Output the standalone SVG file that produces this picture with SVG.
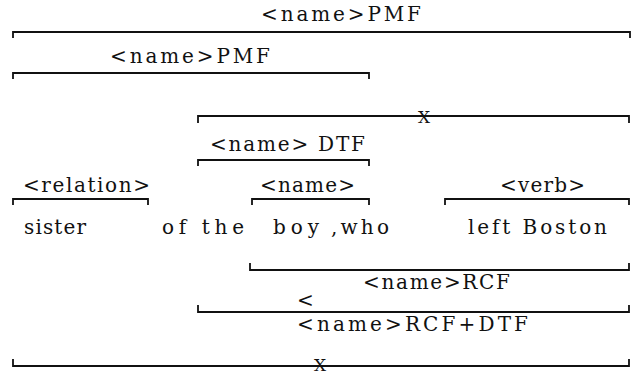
<svg xmlns="http://www.w3.org/2000/svg" width="638" height="376" viewBox="0 0 638 376">
  <style>
    text { font-family: "DejaVu Serif", "Liberation Serif", serif; font-size: 20px; fill: #111; }
    .br { fill: none; stroke: #111; stroke-width: 1.8; stroke-linejoin: miter; }
    .x { font-size: 17px; text-anchor: middle; }
  </style>
  <rect width="638" height="376" fill="#fff"/>

  <!-- constituents above the sentence: bracket opens downward -->
  <g id="pmf-outer">
    <text x="261" y="21" textLength="160" lengthAdjust="spacing">&lt;name&gt;PMF</text>
    <path class="br" d="M13 38 V32 H630 V38"/>
  </g>
  <g id="pmf-inner">
    <text x="110" y="63" textLength="160" lengthAdjust="spacing">&lt;name&gt;PMF</text>
    <path class="br" d="M13 79 V73 H369 V79"/>
  </g>
  <g id="x-upper">
    <path class="br" d="M198 123 V116 H629 V123"/>
    <text class="x" x="424" y="123">X</text>
  </g>
  <g id="dtf">
    <text x="210" y="151" textLength="155" lengthAdjust="spacing">&lt;name&gt; DTF</text>
    <path class="br" d="M198 166 V160 H369 V166"/>
  </g>
  <g id="relation">
    <text x="23" y="192" textLength="127" lengthAdjust="spacing">&lt;relation&gt;</text>
    <path class="br" d="M13 205 V199 H148 V205"/>
  </g>
  <g id="name">
    <text x="260" y="192" textLength="95" lengthAdjust="spacing">&lt;name&gt;</text>
    <path class="br" d="M252 205 V199 H369 V205"/>
  </g>
  <g id="verb">
    <text x="500" y="192" textLength="85" lengthAdjust="spacing">&lt;verb&gt;</text>
    <path class="br" d="M445 205 V199 H629 V205"/>
  </g>

  <!-- the sentence -->
  <g id="sentence">
    <text x="24" y="234" textLength="62" lengthAdjust="spacing">sister</text>
    <text x="162" y="234" textLength="82" lengthAdjust="spacing">of the</text>
    <text x="273" y="234" textLength="46" lengthAdjust="spacing">boy</text>
    <text x="331" y="234" textLength="58" lengthAdjust="spacing">,who</text>
    <text x="468" y="234" textLength="139" lengthAdjust="spacing">left Boston</text>
  </g>

  <!-- constituents below the sentence: bracket opens upward -->
  <g id="rcf">
    <path class="br" d="M250 263 V270 H629 V263"/>
    <text x="363" y="289" textLength="147" lengthAdjust="spacing">&lt;name&gt;RCF</text>
  </g>
  <g id="rcf-dtf">
    <text x="297" y="307">&lt;</text>
    <path class="br" d="M198 305 V312 H629 V305"/>
    <text x="297" y="331" textLength="231" lengthAdjust="spacing">&lt;name&gt;RCF+DTF</text>
  </g>
  <g id="x-lower">
    <path class="br" d="M13 359 V366 H629 V359"/>
    <text class="x" x="320" y="371">X</text>
  </g>
</svg>
